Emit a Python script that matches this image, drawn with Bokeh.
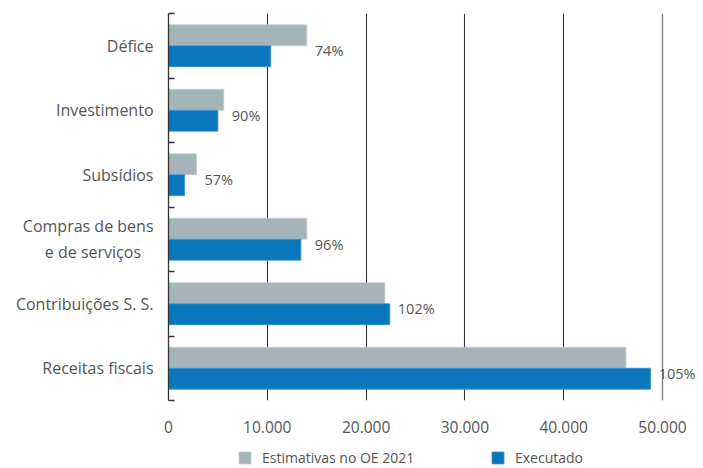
from bokeh.plotting import figure
from bokeh.layouts import column
from bokeh.models import (ColumnDataSource, FixedTicker, Range1d, Legend, LegendItem,
                          Grid, LinearAxis)
from bokeh.core.properties import value
from bokeh.embed import file_html
from bokeh.resources import INLINE

# ---- data (top to bottom as in the chart) ----
categories = ["Défice", "Investimento", "Subsídios", "Compras de bens\ne de serviços",
              "Contribuições S. S.", "Receitas fiscais"]
estimativas = [14000, 5600, 2830, 14000, 21900, 46300]
executado = [10350, 5000, 1620, 13400, 22400, 48800]
percent_labels = ["74%", "90%", "57%", "96%", "102%", "105%"]
x_ticks = [0, 10000, 20000, 30000, 40000, 50000]
x_tick_labels = ["0", "10.000", "20.000", "30.000", "40.000", "50.000"]
series_names = ["Estimativas no OE 2021", "Executado"]

GRAY = "#a5b4b8"
BLUE = "#0a77bd"
TEXT = "#555555"
FONT = "Open Sans"

n = len(categories)
centers = [n - i - 0.5 for i in range(n)]
bar_h = 0.325


def centre_lines(label):
    # pad shorter lines of a multi-line tick label so the lines look centred
    lines = label.split("\n")
    if len(lines) == 1:
        return label
    longest = max(len(s) for s in lines)
    return "\n".join(s + "\u00a0" * round((longest - len(s)) * 1.3) for s in lines)


src = ColumnDataSource(dict(
    y=centers,
    est=estimativas,
    exe=executado,
    y_est=[c + bar_h / 2 for c in centers],
    y_exe=[c - bar_h / 2 for c in centers],
    lab=percent_labels,
    lx=[max(a, b) for a, b in zip(estimativas, executado)],
))

p = figure(width=703, height=440, output_backend="svg", toolbar_location=None,
           x_range=Range1d(0, 54150), y_range=Range1d(0, n),
           min_border_left=168, min_border_right=0, min_border_top=13,
           min_border_bottom=40, x_axis_location=None, y_axis_location=None)
p.outline_line_color = None
p.xgrid.visible = False
p.ygrid.visible = False

r_est = p.hbar(y="y_est", left=0, right="est", height=bar_h, source=src,
               fill_color=GRAY, line_color="#c3ced1", line_width=0.8)
r_exe = p.hbar(y="y_exe", left=0, right="exe", height=bar_h, source=src,
               fill_color=BLUE, line_color="#3a94cf", line_width=0.8)

# grid lines
g1 = Grid(dimension=0, ticker=FixedTicker(ticks=x_ticks[1:-1]),
          grid_line_color="#333333", grid_line_width=1.1)
g2 = Grid(dimension=0, ticker=FixedTicker(ticks=x_ticks[-1:]),
          grid_line_color="#7a7a7a", grid_line_width=1.3)
p.add_layout(g1)
p.add_layout(g2)
g1.level = "underlay"
g2.level = "underlay"

# bottom axis
xa = LinearAxis(ticker=FixedTicker(ticks=x_ticks),
                major_label_overrides={t: l for t, l in zip(x_ticks, x_tick_labels)})
xa.axis_line_color = None
xa.major_tick_line_color = None
xa.minor_tick_line_color = None
xa.major_label_standoff = 14
xa.major_label_text_font = FONT
xa.major_label_text_font_size = "15.5px"
xa.major_label_text_color = TEXT
p.add_layout(xa, "below")

# left axis
ya = LinearAxis(ticker=FixedTicker(ticks=centers, minor_ticks=list(range(n + 1))),
                major_label_overrides={c: centre_lines(l) for c, l in zip(centers, categories)})
ya.axis_line_color = "#333333"
ya.axis_line_width = 1.3
ya.major_tick_line_color = None
ya.major_tick_in = 0
ya.major_tick_out = 0
ya.minor_tick_line_color = "#333333"
ya.minor_tick_line_width = 1.3
ya.minor_tick_in = 6
ya.minor_tick_out = 0
ya.major_label_standoff = 15
ya.major_label_text_font = FONT
ya.major_label_text_font_size = "16px"
ya.major_label_text_color = TEXT
p.add_layout(ya, "left")

# percentage labels
p.text(x="lx", y="y", text="lab", source=src, x_offset=8, y_offset=5,
       text_font=value(FONT), text_font_size="14.5px", text_color=TEXT,
       text_baseline="middle", text_align="left")

# ---- legend strip (proxy renderers lie outside its visible range) ----
lg = figure(width=703, height=28, output_backend="svg", toolbar_location=None,
            x_range=Range1d(0, 1), y_range=Range1d(0, 1),
            min_border=0, x_axis_location=None, y_axis_location=None)
lg.outline_line_color = None
lg.xgrid.visible = False
lg.ygrid.visible = False
proxy = ColumnDataSource(dict(y=[-10], r=[1]))
d_est = lg.hbar(y="y", right="r", height=1, source=proxy,
                fill_color=GRAY, line_color="#c3ced1", line_width=0.8)
d_exe = lg.hbar(y="y", right="r", height=1, source=proxy,
                fill_color=BLUE, line_color="#3a94cf", line_width=0.8)

common = dict(orientation="horizontal", glyph_width=15, glyph_height=15,
              label_height=15, label_standoff=10, padding=0, margin=0,
              border_line_color=None, background_fill_alpha=0,
              label_text_font=FONT, label_text_font_size="14px",
              label_text_color=TEXT)
leg1 = Legend(items=[LegendItem(label=series_names[0], renderers=[d_est])],
              location=(69, 1), **common)
leg2 = Legend(items=[LegendItem(label=series_names[1], renderers=[d_exe])],
              location=(322, 1), **common)
lg.add_layout(leg1, "center")
lg.add_layout(leg2, "center")

open("out.html", "w").write(file_html(column(p, lg, spacing=0), INLINE))
